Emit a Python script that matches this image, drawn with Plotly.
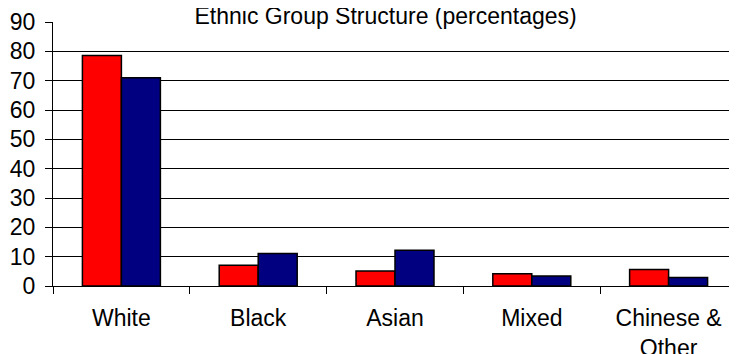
import plotly.graph_objects as go

categories = ['White', 'Black', 'Asian', 'Mixed', 'Chinese &<br>Other']
series_a = [78.6, 7.1, 5.1, 4.2, 5.6]
series_b = [71.0, 11.1, 12.2, 3.4, 2.9]
y_ticks = [0, 10, 20, 30, 40, 50, 60, 70, 80, 90]

fig = go.Figure()
fig.add_trace(go.Bar(x=categories, y=series_a, marker=dict(color='#FF0000', line=dict(color='black', width=1.5))))
fig.add_trace(go.Bar(x=categories, y=series_b, marker=dict(color='#000080', line=dict(color='black', width=1.5))))

# page body keeps an 8px margin, so the figure is sized to the visible area
fig.update_layout(
    width=729, height=346,
    margin=dict(l=45, r=0, t=14, b=68),
    paper_bgcolor='white', plot_bgcolor='white',
    showlegend=False,
    barmode='group', bargap=0.43, bargroupgap=0,
    font=dict(family='Liberation Sans, Arial, sans-serif', size=23, color='black'),
    title=dict(text='Ethnic Group Structure (percentages)', x=0.518, xanchor='center',
               y=1, yanchor='top', yref='container', pad=dict(t=0),
               font=dict(size=23)),
)
fig.update_yaxes(range=[0, 90], tickvals=y_ticks, showgrid=True, gridcolor='black', gridwidth=1,
                 showline=True, linecolor='black', linewidth=1, ticks='outside', ticklen=7,
                 tickcolor='black', zeroline=True, zerolinecolor='black', zerolinewidth=1,
                 ticklabelstandoff=5, automargin=False)
fig.update_xaxes(showline=True, linecolor='black', linewidth=1, ticks='outside', ticklen=7,
                 tickcolor='black', tickson='boundaries', ticklabelstandoff=11,
                 automargin=False)

fig.write_html("out.html")
